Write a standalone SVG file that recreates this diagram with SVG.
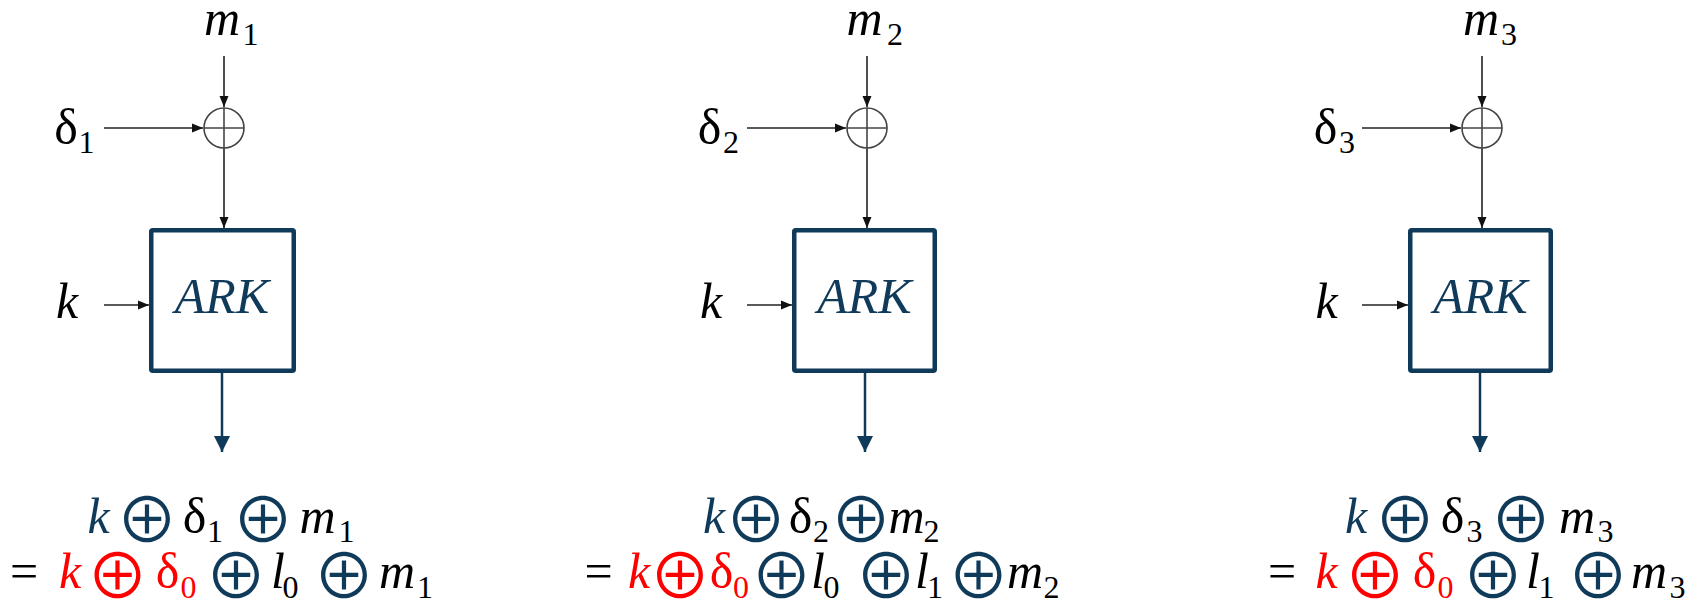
<svg xmlns="http://www.w3.org/2000/svg" width="1703" height="600" viewBox="0 0 1703 600">
<style>
.t{font-family:"Liberation Serif",serif;font-size:50px;text-anchor:middle}
.i{font-style:italic}
.s{font-family:"Liberation Serif",serif;font-size:32px;text-anchor:middle}
.o{font-family:"Noto Sans CJK SC","DejaVu Sans",sans-serif;font-size:62px;text-anchor:middle}
.nv{fill:#0f3a5a}
.bk{fill:#000}
.rd{fill:#ff0000}
.box{fill:#fff;stroke:#0f3a5a;stroke-width:4.5}
.ark{font-family:"Liberation Serif",serif;font-style:italic;font-size:50px;fill:#0f3a5a;text-anchor:middle}
.xor{fill:none;stroke:#444;stroke-width:1.6}
.ln{stroke:#222;stroke-width:1.6;fill:none;marker-end:url(#ah)}
.out{stroke:#0f3a5a;stroke-width:2.5;fill:none;marker-end:url(#ah2)}
</style>
<defs>
<marker id="ah" markerUnits="userSpaceOnUse" markerWidth="11" markerHeight="10" refX="11" refY="5" orient="auto"><path d="M0,0.5 L11,5 L0,9.5 z" fill="#111"/></marker>
<marker id="ah2" markerUnits="userSpaceOnUse" markerWidth="16" markerHeight="16" refX="16" refY="8" orient="auto"><path d="M0,0 L16,8 L0,16 z" fill="#0f3a5a"/></marker>
</defs>
<rect width="1703" height="600" fill="#fff"/>

<g id="connectors">
<line class="ln" x1="224" y1="56" x2="224" y2="107"/>
<line class="ln" x1="104" y1="128" x2="203" y2="128"/>
<line class="ln" x1="224" y1="148" x2="224" y2="228"/>
<line class="ln" x1="104" y1="305" x2="149" y2="305"/>
<line class="out" x1="222" y1="373" x2="222" y2="452"/>

<line class="ln" x1="867" y1="56" x2="867" y2="107"/>
<line class="ln" x1="747" y1="128" x2="846" y2="128"/>
<line class="ln" x1="867" y1="148" x2="867" y2="228"/>
<line class="ln" x1="747" y1="305" x2="792" y2="305"/>
<line class="out" x1="865" y1="373" x2="865" y2="452"/>

<line class="ln" x1="1482" y1="56" x2="1482" y2="107"/>
<line class="ln" x1="1362" y1="128" x2="1461" y2="128"/>
<line class="ln" x1="1482" y1="148" x2="1482" y2="228"/>
<line class="ln" x1="1362" y1="305" x2="1408" y2="305"/>
<line class="out" x1="1480" y1="373" x2="1480" y2="452"/>
</g>

<!-- Panel 1 -->
<g id="m1-label"><text class="t i bk" x="222" y="35">m</text><text class="s bk" x="250.5" y="45">1</text></g>
<g id="d1-label"><text class="t bk" x="66" y="144">δ</text><text class="s bk" x="86.5" y="153">1</text></g>
<g id="k1-label"><text class="t i bk" x="67" y="318">k</text></g>
<g id="xor1"><circle class="xor" cx="224" cy="128" r="20"/><line class="xor" x1="204" y1="128" x2="244" y2="128"/><line class="xor" x1="224" y1="108" x2="224" y2="148"/></g>
<g id="ark1"><rect class="box" x="151.25" y="230.25" width="142.5" height="140.5" rx="1.5"/><text class="ark" x="222" y="313">ARK</text></g>
<g id="result1">
<text class="t i nv" x="98.5" y="533">k</text>
<text class="o nv" x="147" y="543">⊕</text>
<text class="t bk" x="194.5" y="533">δ</text><text class="s bk" x="215" y="542">1</text>
<text class="o nv" x="263" y="543">⊕</text>
<text class="t i bk" x="317.5" y="533">m</text><text class="s bk" x="346.5" y="542">1</text>
<text class="t bk" x="24" y="588">=</text>
<text class="t i rd" x="70" y="588">k</text>
<text class="o rd" x="117.5" y="599">⊕</text>
<text class="t rd" x="167.5" y="588">δ</text><text class="s rd" x="188.5" y="598">0</text>
<text class="o nv" x="236" y="599">⊕</text>
<text class="t i bk" x="278" y="588">l</text><text class="s bk" x="290.5" y="598">0</text>
<text class="o nv" x="344" y="599">⊕</text>
<text class="t i bk" x="397" y="588">m</text><text class="s bk" x="425" y="598">1</text>
</g>

<!-- Panel 2 -->
<g id="m2-label"><text class="t i bk" x="864.5" y="35">m</text><text class="s bk" x="895" y="45">2</text></g>
<g id="d2-label"><text class="t bk" x="709.5" y="144">δ</text><text class="s bk" x="731" y="153">2</text></g>
<g id="k2-label"><text class="t i bk" x="711" y="318">k</text></g>
<g id="xor2"><circle class="xor" cx="867" cy="128" r="20"/><line class="xor" x1="847" y1="128" x2="887" y2="128"/><line class="xor" x1="867" y1="108" x2="867" y2="148"/></g>
<g id="ark2"><rect class="box" x="794.25" y="230.25" width="140.5" height="140.5" rx="1.5"/><text class="ark" x="864.5" y="313">ARK</text></g>
<g id="result2">
<text class="t i nv" x="714" y="533">k</text>
<text class="o nv" x="756" y="543">⊕</text>
<text class="t bk" x="800.5" y="533">δ</text><text class="s bk" x="821" y="542">2</text>
<text class="o nv" x="861" y="543">⊕</text>
<text class="t i bk" x="906.5" y="533">m</text><text class="s bk" x="931.5" y="542">2</text>
<text class="t bk" x="598.5" y="588">=</text>
<text class="t i rd" x="639" y="588">k</text>
<text class="o rd" x="680" y="599">⊕</text>
<text class="t rd" x="721.5" y="588">δ</text><text class="s rd" x="741" y="598">0</text>
<text class="o nv" x="781.5" y="599">⊕</text>
<text class="t i bk" x="818" y="588">l</text><text class="s bk" x="831.5" y="598">0</text>
<text class="o nv" x="886" y="599">⊕</text>
<text class="t i bk" x="922" y="588">l</text><text class="s bk" x="935" y="598">1</text>
<text class="o nv" x="978.5" y="599">⊕</text>
<text class="t i bk" x="1025" y="588">m</text><text class="s bk" x="1051.5" y="598">2</text>
</g>

<!-- Panel 3 -->
<g id="m3-label"><text class="t i bk" x="1481" y="35">m</text><text class="s bk" x="1509" y="45">3</text></g>
<g id="d3-label"><text class="t bk" x="1325.5" y="144">δ</text><text class="s bk" x="1347" y="153">3</text></g>
<g id="k3-label"><text class="t i bk" x="1326.5" y="318">k</text></g>
<g id="xor3"><circle class="xor" cx="1482" cy="128" r="20"/><line class="xor" x1="1462" y1="128" x2="1502" y2="128"/><line class="xor" x1="1482" y1="108" x2="1482" y2="148"/></g>
<g id="ark3"><rect class="box" x="1410.25" y="230.25" width="140.5" height="140.5" rx="1.5"/><text class="ark" x="1480.5" y="313">ARK</text></g>
<g id="result3">
<text class="t i nv" x="1356" y="533">k</text>
<text class="o nv" x="1405" y="543">⊕</text>
<text class="t bk" x="1452.5" y="533">δ</text><text class="s bk" x="1474.5" y="542">3</text>
<text class="o nv" x="1521" y="543">⊕</text>
<text class="t i bk" x="1577" y="533">m</text><text class="s bk" x="1605.5" y="542">3</text>
<text class="t bk" x="1282" y="588">=</text>
<text class="t i rd" x="1326.5" y="588">k</text>
<text class="o rd" x="1375" y="599">⊕</text>
<text class="t rd" x="1424.5" y="588">δ</text><text class="s rd" x="1445.5" y="598">0</text>
<text class="o nv" x="1493" y="599">⊕</text>
<text class="t i bk" x="1533" y="588">l</text><text class="s bk" x="1546.5" y="598">1</text>
<text class="o nv" x="1598" y="599">⊕</text>
<text class="t i bk" x="1649" y="588">m</text><text class="s bk" x="1677.5" y="598">3</text>
</g>
</svg>
